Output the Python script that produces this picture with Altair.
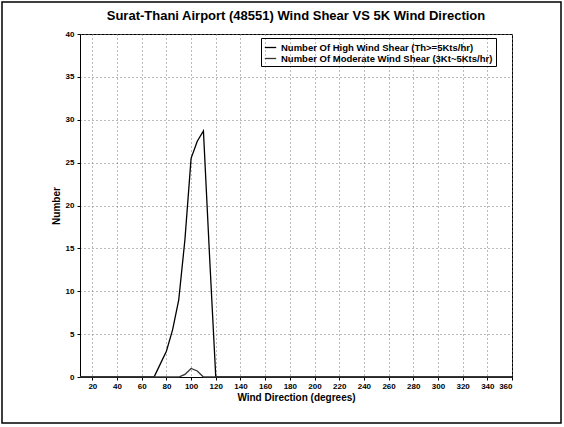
import altair as alt
import pandas as pd

# Wind direction bins (degrees) and event counts per bin
directions = [10, 20, 30, 40, 50, 60, 65, 70, 75, 80, 85, 90, 95, 100, 105, 110, 115, 120,
              130, 140, 160, 180, 200, 220, 240, 260, 280, 300, 320, 340, 360]
high_shear = [0, 0, 0, 0, 0, 0, 0, 0, 1.5, 3, 5.5, 9, 16, 25.5, 27.5, 28.7, 14, 0,
              0, 0, 0, 0, 0, 0, 0, 0, 0, 0, 0, 0, 0]
moderate_shear = [0, 0, 0, 0, 0, 0, 0, 0, 0, 0, 0, 0, 0.3, 1, 0.7, 0, 0, 0,
                  0, 0, 0, 0, 0, 0, 0, 0, 0, 0, 0, 0, 0]

series_names = [
    "Number Of High Wind Shear (Th>=5Kts/hr)",
    "Number Of Moderate Wind Shear (3Kt~5Kts/hr)",
]
x_ticks = list(range(20, 361, 20))
y_ticks = list(range(0, 41, 5))

df = pd.concat([
    pd.DataFrame({"dir": directions, "count": high_shear, "series": series_names[0]}),
    pd.DataFrame({"dir": directions, "count": moderate_shear, "series": series_names[1]}),
])

font = "Liberation Sans"

lines = alt.Chart(df).mark_line(strokeWidth=1.3).encode(
    x=alt.X("dir:Q", scale=alt.Scale(domain=[10, 360], nice=False, zero=False),
            axis=alt.Axis(values=x_ticks, title="Wind Direction (degrees)")),
    y=alt.Y("count:Q", scale=alt.Scale(domain=[0, 40], nice=False),
            axis=alt.Axis(values=y_ticks, title="Number")),
    color=alt.Color("series:N", sort=series_names,
                    scale=alt.Scale(domain=series_names, range=["#000000", "#333333"]),
                    legend=alt.Legend(orient="none", legendX=181, legendY=4, title=None,
                                      symbolType="stroke", symbolSize=130,
                                      symbolStrokeWidth=1.3, labelLimit=0,
                                      labelFont=font, labelFontSize=9.5,
                                      labelFontWeight="bold", labelColor="#000000",
                                      strokeColor="#000000", padding=3,
                                      rowPadding=0)),
)

# outer border around the whole figure
border = alt.Chart(pd.DataFrame({"k": [0]})).mark_rect(
    fill=None, stroke="#000000", strokeWidth=1.5
).encode(x=alt.value(-78), x2=alt.value(481), y=alt.value(-32), y2=alt.value(389))

chart = alt.layer(lines, border).properties(
    width=432, height=343,
    padding={"left": 80, "top": 34, "right": 52, "bottom": 50},
    autosize="none",
    title=alt.Title("Surat-Thani Airport (48551) Wind Shear VS 5K Wind Direction",
                    font=font, fontSize=13, fontWeight="bold", offset=-22, color="#000000"),
    background="#ffffff",
).configure_view(
    stroke="#000000", strokeWidth=1
).configure_axis(
    grid=True, gridColor="#777777", gridDash=[1, 3], gridWidth=1,
    domainColor="#000000", tickColor="#000000", tickSize=3,
    labelFont=font, labelFontSize=8, labelFontWeight="bold", labelColor="#000000",
    titleFont=font, titleFontSize=10, titleFontWeight="bold", titleColor="#000000",
).configure_axisX(
    titlePadding=2, labelPadding=2
).configure_axisY(
    titlePadding=4, labelPadding=3
)

chart.save("out.html", embed_options={"renderer": "svg", "actions": False})
